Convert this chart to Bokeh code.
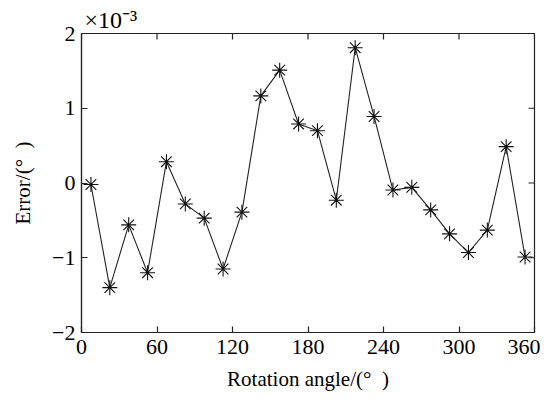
import math
from bokeh.plotting import figure
from bokeh.models import FixedTicker, Range1d, Title
from bokeh.embed import file_html
from bokeh.resources import INLINE

angles = [7.5, 22.5, 37.5, 52.5, 67.5, 82.5, 97.5, 112.5, 127.5, 142.5, 157.5, 172.5,
          187.5, 202.5, 217.5, 232.5, 247.5, 262.5, 277.5, 292.5, 307.5, 322.5, 337.5, 352.5]
errors = [-0.02, -1.40, -0.56, -1.20, 0.285, -0.28, -0.47, -1.15, -0.39, 1.165, 1.51, 0.79,
          0.70, -0.23, 1.81, 0.89, -0.094, -0.058, -0.36, -0.68, -0.93, -0.63, 0.486, -0.99]
x_ticks = [0, 60, 120, 180, 240, 300, 360]
y_ticks = [-2, -1, 0, 1, 2]
x_min, x_max = 0, 360
y_min, y_max = -2, 2

FONT = "Liberation Serif"
INK = "#222222"

p = figure(width=540, height=393, output_backend="svg", toolbar_location=None,
           x_range=Range1d(x_min, x_max), y_range=Range1d(y_min, y_max),
           min_border_left=81, min_border_right=6, min_border_top=33, min_border_bottom=59)
p.xgrid.visible = False
p.ygrid.visible = False
p.outline_line_color = INK
p.outline_line_width = 1.2
p.background_fill_color = "white"
p.border_fill_color = "white"

p.line(angles, errors, line_color=INK, line_width=1.1)
p.scatter(angles, errors, marker="asterisk", size=15, line_color="#111111", line_width=1.1)

# inward ticks on the top and right edges of the box
p.ray(x=x_ticks, y=[y_max] * len(x_ticks), length=6, length_units="screen",
      angle=-math.pi / 2, line_color=INK, line_width=1.2)
p.ray(x=[x_max] * len(y_ticks), y=y_ticks, length=6, length_units="screen",
      angle=math.pi, line_color=INK, line_width=1.2)

xa = p.xaxis[0]
xa.ticker = FixedTicker(ticks=x_ticks)
ya = p.yaxis[0]
ya.ticker = FixedTicker(ticks=y_ticks)
for ax in (xa, ya):
    ax.major_tick_in = 6
    ax.major_tick_out = 0
    ax.minor_tick_in = 0
    ax.minor_tick_out = 0
    ax.axis_line_color = INK
    ax.axis_line_width = 1.2
    ax.major_tick_line_color = INK
    ax.major_tick_line_width = 1.2
    ax.major_label_text_font = FONT
    ax.major_label_text_font_size = "22px"
    ax.major_label_text_color = "black"
    ax.axis_label_text_font = FONT
    ax.axis_label_text_font_size = "21px"
    ax.axis_label_text_font_style = "normal"
    ax.axis_label_text_color = "black"

xa.axis_label = "Rotation angle/(°\u00a0\u00a0)"
xa.major_label_standoff = 7
xa.axis_label_standoff = 10
ya.axis_label = "Error/(°\u00a0\u00a0)"
ya.major_label_standoff = 6
ya.axis_label_standoff = 14
ya.major_label_overrides = {-2: "\u22122", -1: "\u22121", 0: "0", 1: "1", 2: "2"}

t = Title(text="×10\u207b\u00b3", text_font=FONT, text_font_size="24px",
          text_font_style="normal", text_color="black", align="left", offset=3, standoff=2)
p.add_layout(t, "above")

open("out.html", "w").write(file_html(p, INLINE))
